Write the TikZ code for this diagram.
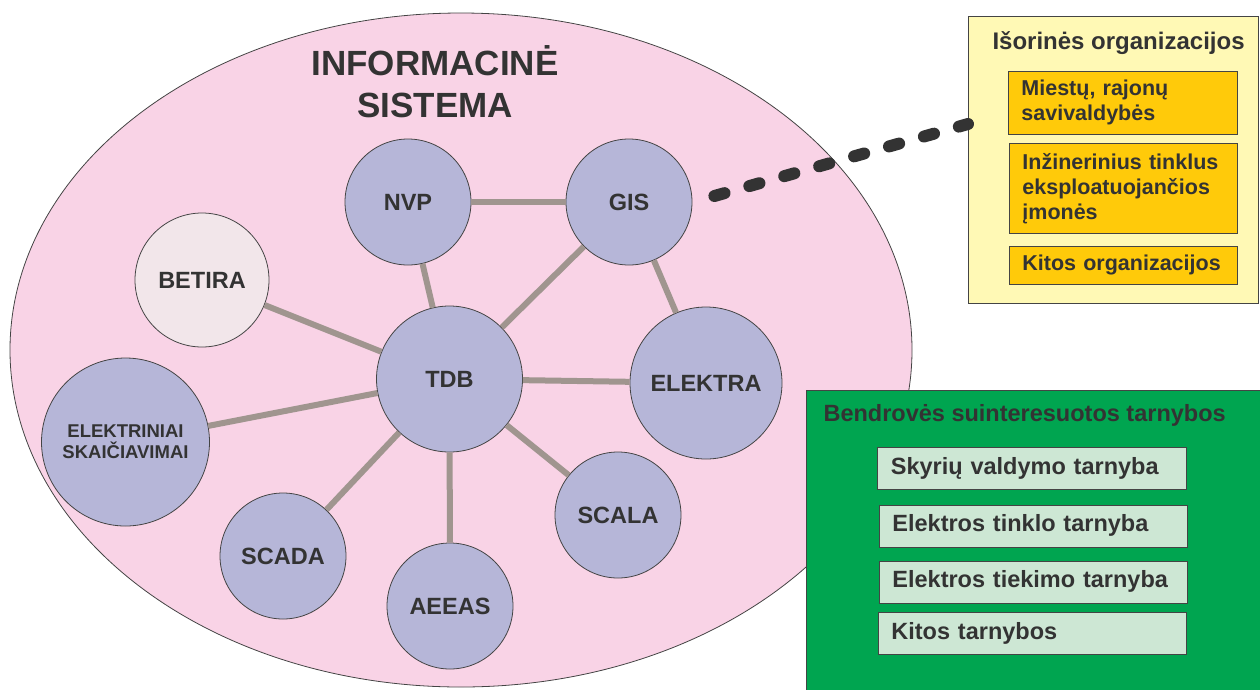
\documentclass[tikz,border=0pt]{standalone}
\usepackage{fontspec}
\setmainfont{Liberation Sans}
\definecolor{txt}{HTML}{333333}
\definecolor{pinkfill}{HTML}{F9D3E6}
\definecolor{lav}{HTML}{B6B6D8}
\definecolor{betfill}{HTML}{F2E6EA}
\definecolor{conn}{HTML}{A0958F}
\definecolor{ylw}{HTML}{FFF9B5}
\definecolor{orng}{HTML}{FFCA0A}
\definecolor{grn}{HTML}{00A550}
\definecolor{lgrn}{HTML}{CDE7D4}
\definecolor{edge}{HTML}{444444}
\begin{document}
\begin{tikzpicture}[x=1pt,y=-1pt,
  every node/.style={text=txt,font=\bfseries},
  sys/.style={circle,draw=edge,line width=0.8pt,fill=lav,inner sep=0pt,align=center,
    font=\bfseries\fontsize{23.5}{28}\selectfont},
  link/.style={draw=conn,line width=6pt},
  obox/.style={draw=edge,line width=0.8pt,fill=orng,anchor=north west,inner xsep=13pt,
    align=left,font=\bfseries\fontsize{21.5}{25}\selectfont},
  gbox/.style={draw=edge,line width=0.8pt,fill=lgrn,anchor=north west,inner xsep=13pt,
    align=left,text width=282pt,minimum height=42pt,font=\bfseries\fontsize{23.5}{28}\selectfont},
  frame/.style={draw=edge,line width=0.8pt}
]
\useasboundingbox (0,0) rectangle (1260,689);
\clip (0,0) rectangle (1260,689);
% ellipse
\path[frame,fill=pinkfill] (461,350) ellipse [x radius=451, y radius=337];
\node[font=\bfseries\fontsize{35}{42}\selectfont,align=center] (title) at (435,82) {INFORMACINĖ\\SISTEMA};
% circles
\node[sys,minimum size=126pt] (nvp) at (408,202) {NVP};
\node[sys,minimum size=126pt] (gis) at (629,202) {GIS};
\node[sys,minimum size=134pt,fill=betfill] (betira) at (202,280) {BETIRA};
\node[sys,minimum size=146pt] (tdb) at (449.5,379) {TDB};
\node[sys,minimum size=152pt] (elektra) at (706,383) {ELEKTRA};
\node[sys,minimum size=168pt,font=\bfseries\fontsize{18.5}{21}\selectfont] (elsk) at (125.5,442) {ELEKTRINIAI\\SKAIČIAVIMAI};
\node[sys,minimum size=126pt] (scada) at (283,556) {SCADA};
\node[sys,minimum size=126pt] (aeeas) at (450,606) {AEEAS};
\node[sys,minimum size=126pt] (scala) at (618,515) {SCALA};
% links
\draw[link] (nvp) -- (gis);
\draw[link] (nvp) -- (tdb);
\draw[link] (gis) -- (tdb);
\draw[link] (gis) -- (elektra);
\draw[link] (tdb) -- (betira);
\draw[link] (tdb) -- (elektra);
\draw[link] (tdb) -- (elsk);
\draw[link] (tdb) -- (scada);
\draw[link] (tdb) -- (aeeas);
\draw[link] (tdb) -- (scala);
% external organisations
\node[frame,fill=ylw,anchor=north west,minimum width=290pt,minimum height=287pt,inner sep=0pt] (ext) at (968,16) {};
\node[anchor=base west,font=\bfseries\fontsize{24}{28}\selectfont] (extt) at (989,49) {Išorinės organizacijos};
\node[obox,minimum width=229pt,minimum height=63pt,text width=203pt] (m1) at (1008,71) {Miestų, rajonų\\savivaldybės};
\node[obox,minimum width=228pt,minimum height=90pt,text width=202pt] (m2) at (1009,143) {Inžinerinius tinklus\\eksploatuojančios\\įmonės};
\node[obox,minimum width=228pt,minimum height=38pt,text width=202pt] (m3) at (1009,246) {Kitos organizacijos};
% dashed link
\coordinate (ds0) at ([shift={(22,-6)}]gis.east);
\coordinate (de0) at (ext.west |- 0,124);
\draw[draw=txt,line width=12pt,line cap=round,dash pattern=on 10.5pt off 25.8pt] (ds0) -- (de0);
% company services
\node[frame,fill=grn,anchor=north west,minimum width=470pt,minimum height=320pt,inner sep=0pt] (svc) at (806,390) {};
\node[anchor=base west,font=\bfseries\fontsize{23.5}{28}\selectfont] (svct) at (820,421) {Bendrovės suinteresuotos tarnybos};
\node[gbox,minimum width=309pt] (s1) at (877,447) {Skyrių valdymo tarnyba};
\node[gbox,minimum width=308pt] (s2) at (879,504.5) {Elektros tinklo tarnyba};
\node[gbox,minimum width=308pt] (s3) at (879,560.5) {Elektros tiekimo tarnyba};
\node[gbox,minimum width=308pt] (s4) at (878,612) {Kitos tarnybos};
\end{tikzpicture}
\end{document}
